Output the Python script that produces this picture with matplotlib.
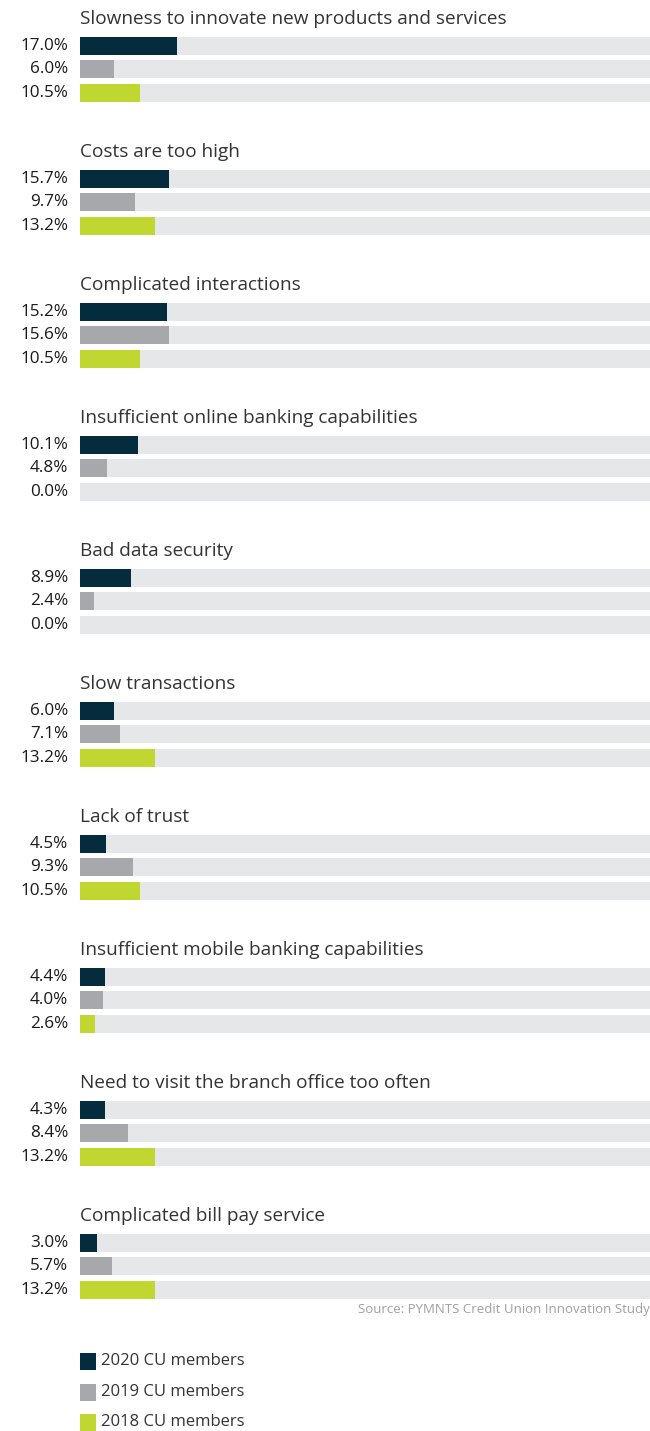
import matplotlib
matplotlib.use("Agg")
import matplotlib.pyplot as plt

categories = [
    "Slowness to innovate new products and services",
    "Costs are too high",
    "Complicated interactions",
    "Insufficient online banking capabilities",
    "Bad data security",
    "Slow transactions",
    "Lack of trust",
    "Insufficient mobile banking capabilities",
    "Need to visit the branch office too often",
    "Complicated bill pay service",
]
series_names = ["2020 CU members", "2019 CU members", "2018 CU members"]
v2020 = [17.0, 15.7, 15.2, 10.1, 8.9, 6.0, 4.5, 4.4, 4.3, 3.0]
v2019 = [6.0, 9.7, 15.6, 4.8, 2.4, 7.1, 9.3, 4.0, 8.4, 5.7]
v2018 = [10.5, 13.2, 10.5, 0.0, 0.0, 13.2, 10.5, 2.6, 13.2, 13.2]
source = "Source: PYMNTS Credit Union Innovation Study"

colors = ["#052c3d", "#a7a8ab", "#bfd730"]
track = "#e6e7e9"
font = ["Open Sans", "DejaVu Sans"]

W, H = 650, 1431
fig = plt.figure(figsize=(W / 100, H / 100), dpi=100)
ax = fig.add_axes([80 / W, 0, 570 / W, 1])
ax.set_xlim(0, 100)
ax.set_ylim(H, 0)
ax.axis("off")

group_top = 37
group_step = 133
row_step = 23.3
bar_h = 18

series = [v2020, v2019, v2018]
for g, cat in enumerate(categories):
    top = group_top + g * group_step
    ax.text(0, top - 13, cat, fontsize=13.7, family=font, color="#333333",
            ha="left", va="baseline")
    for s, vals in enumerate(series):
        yc = top + s * row_step + bar_h / 2
        ax.barh(yc, 100, height=bar_h, left=0, color=track, linewidth=0)
        ax.barh(yc, vals[g], height=bar_h, left=0, color=colors[s], linewidth=0)
        ax.text(-2.1, yc, f"{vals[g]:.1f}%", fontsize=12.3, family=font,
                color="#1a1a1a", ha="right", va="center", clip_on=False)

ax.text(100, 1310, source, fontsize=9.5, family=font, color="#a0a0a0",
        ha="right", va="center", clip_on=False)

# legend
leg_y = [1361, 1392, 1422]
for s, name in enumerate(series_names):
    ax.barh(leg_y[s], 16 * 100 / 570, height=17, left=0, color=colors[s], linewidth=0)
    ax.text(21 * 100 / 570, leg_y[s], name, fontsize=12, family=font,
            color="#333333", ha="left", va="center")

fig.savefig("out.png", dpi=100)
